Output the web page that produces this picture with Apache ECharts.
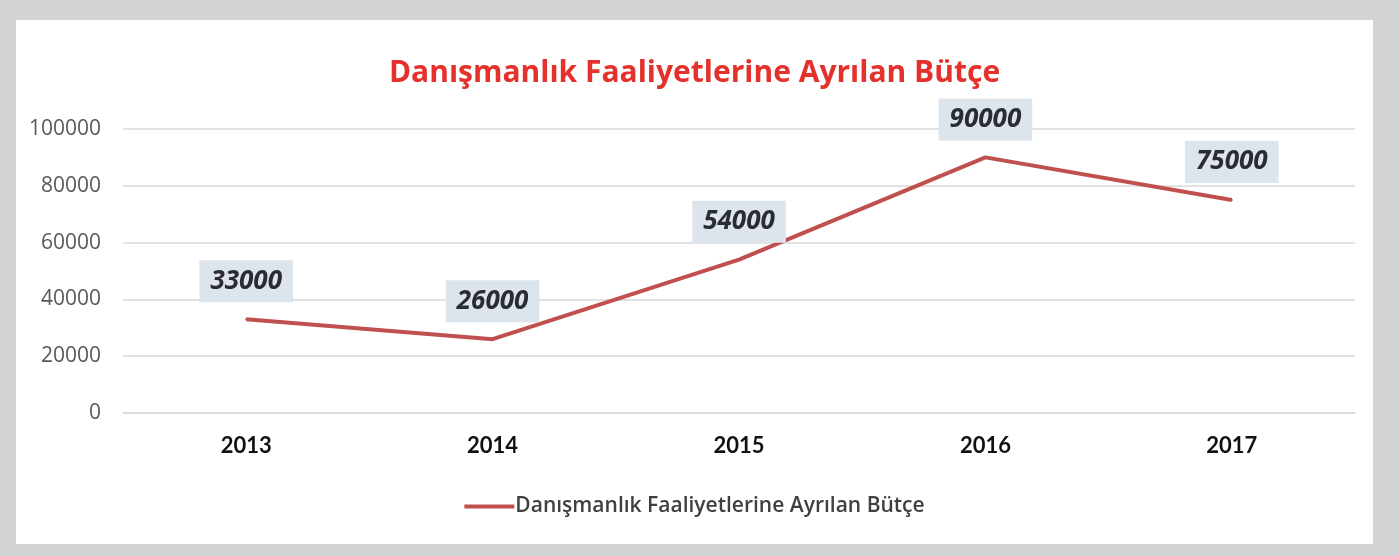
<!DOCTYPE html>
<html>
<head>
<meta charset="utf-8">
<script src="https://cdn.jsdelivr.net/npm/echarts@6/dist/echarts.min.js"></script>
<style>
  html, body { margin: 0; padding: 0; background: #d2d3d5; }
  body { width: 1399px; height: 556px; position: relative; overflow: hidden; }
  #chart { position: absolute; left: 16px; top: 20px; width: 1357px; height: 524px; background: #fff; }
</style>
</head>
<body>
<div id="chart"></div>
<script>
const years = ['2013', '2014', '2015', '2016', '2017']
const budget = [33000, 26000, 54000, 90000, 75000]
const seriesName = 'Danışmanlık Faaliyetlerine Ayrılan Bütçe'
const wideFont = '"Open Sans", sans-serif'
const narrowFont = 'Lato, sans-serif'

const chart = echarts.init(document.getElementById('chart'))
chart.setOption({
  animation: false,
  textStyle: { fontFamily: wideFont },
  title: {
    text: seriesName,
    left: 'center',
    top: 33,
    textStyle: { color: '#e4312b', fontSize: 30, fontWeight: 'bold', fontFamily: wideFont }
  },
  legend: {
    bottom: 22,
    left: 'center',
    itemWidth: 50,
    itemHeight: 4,
    itemGap: 10,
    icon: 'rect',
    textStyle: { color: '#404040', fontSize: 21, fontWeight: 600, fontFamily: wideFont, padding: [0, 0, 0, -4] },
    data: [seriesName]
  },
  grid: { left: 107, right: 18, top: 109, bottom: 131 },
  xAxis: {
    type: 'category',
    data: years,
    boundaryGap: true,
    axisLine: { lineStyle: { color: '#d9d9d9', width: 1.5 } },
    axisTick: { show: false },
    axisLabel: { color: '#111', fontSize: 22, fontWeight: 'bold', fontFamily: narrowFont, margin: 22 }
  },
  yAxis: {
    type: 'value',
    min: 0,
    max: 100000,
    interval: 20000,
    axisLine: { show: false },
    axisTick: { show: false },
    splitLine: { lineStyle: { color: '#d9d9d9', width: 1.5 } },
    axisLabel: { color: '#595959', fontSize: 21, margin: 22, formatter: v => String(v) }
  },
  series: [{
    name: seriesName,
    type: 'line',
    data: budget,
    symbol: 'circle',
    symbolSize: 2,
    showSymbol: true,
    lineStyle: { color: '#c0504d', width: 4 },
    itemStyle: { color: '#c0504d' },
    label: {
      show: true,
      position: 'top',
      distance: 16,
      color: '#2b2b33',
      fontSize: 26,
      fontWeight: 'bold',
      fontStyle: 'italic',
      fontFamily: wideFont,
      backgroundColor: '#dce4ec',
      padding: [8, 11, 8, 11]
    }
  }]
})
</script>
</body>
</html>
